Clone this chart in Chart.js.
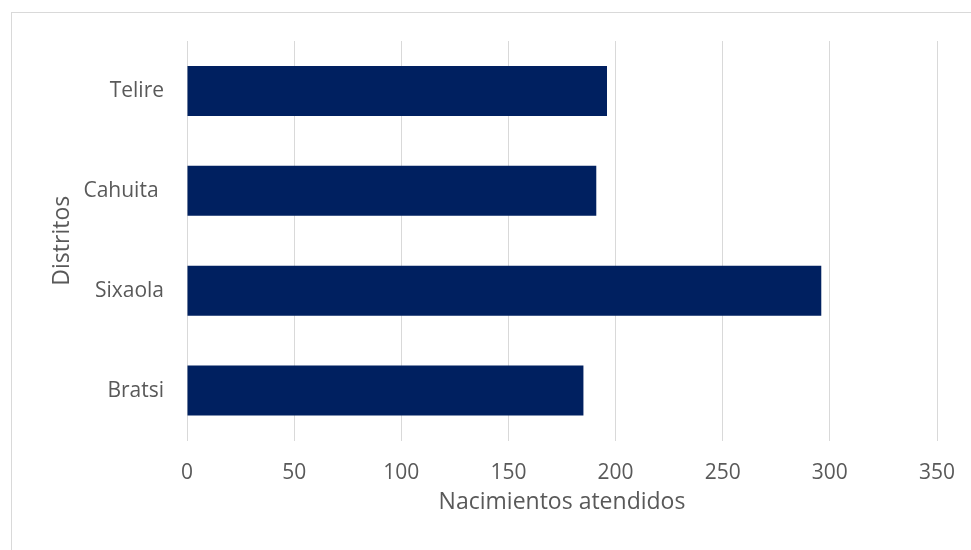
<!DOCTYPE html>
<html>
<head>
<meta charset="utf-8">
<script src="https://cdn.jsdelivr.net/npm/chart.js@4"></script>
<style>
  html, body { margin: 0; padding: 0; background: #fff; overflow: hidden; }
  #frame {
    position: absolute; left: 11px; top: 12px;
    width: 959px; height: 537px;
    border-top: 1px solid #d9d9d9;
    border-left: 1px solid #d9d9d9;
  }
</style>
</head>
<body>
<div id="frame"><canvas id="chart"></canvas></div>
<script>
const districts = ['Telire', 'Cahuita ', 'Sixaola', 'Bratsi'];
const births = [196, 191, 296, 185];
const xTicks = [0, 50, 100, 150, 200, 250, 300, 350];

const grey = '#595959';
const font = 'Open Sans';
const clear = 'rgba(0,0,0,0)';

new Chart(document.getElementById('chart'), {
  type: 'bar',
  data: {
    labels: districts,
    datasets: [{
      data: births,
      backgroundColor: '#002060',
      borderWidth: 0,
      categoryPercentage: 1,
      barPercentage: 0.5
    }]
  },
  options: {
    indexAxis: 'y',
    responsive: true,
    maintainAspectRatio: false,
    animation: false,
    layout: { padding: { top: 28, right: 34, left: 0, bottom: 0 } },
    plugins: { legend: { display: false }, tooltip: { enabled: false } },
    scales: {
      x: {
        min: 0, max: 350,
        afterBuildTicks: s => { s.ticks = xTicks.map(v => ({ value: v })); },
        afterFit: s => { s.height = 109.5; },
        grid: { color: '#d9d9d9', lineWidth: 1, drawTicks: true, tickLength: 20, tickColor: clear },
        border: { display: false },
        ticks: { color: grey, font: { family: font, size: 21 }, padding: 0 },
        title: {
          display: true, text: 'Nacimientos atendidos', color: grey,
          font: { family: font, size: 23 }, padding: { top: 0, bottom: 34 }
        }
      },
      y: {
        afterFit: s => { s.width = 175; },
        grid: { display: true, drawOnChartArea: false, drawTicks: true, tickLength: 23, tickColor: clear },
        border: { display: false },
        ticks: { color: grey, font: { family: font, size: 21 }, padding: 0 },
        title: {
          display: true, text: 'Distritos', color: grey,
          font: { family: font, size: 23 }, padding: { top: 37, bottom: 0 }
        }
      }
    }
  }
});
</script>
</body>
</html>
